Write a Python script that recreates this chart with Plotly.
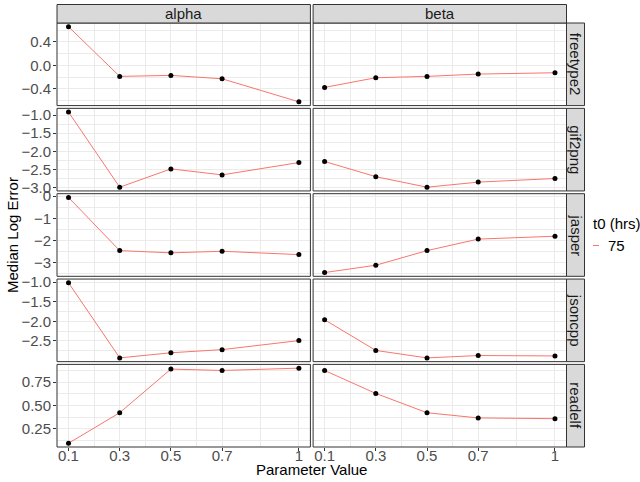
import plotly.graph_objects as go

# ---------------- data ----------------
params = [0.1, 0.3, 0.5, 0.7, 1.0]
x_tick_labels = ["0.1", "0.3", "0.5", "0.7", "1"]
methods = ["alpha", "beta"]
benchmarks = ["freetype2", "gif2png", "jasper", "jsoncpp", "readelf"]

freetype2_alpha = [0.657, -0.187, -0.170, -0.228, -0.620]
freetype2_beta = [-0.374, -0.210, -0.187, -0.148, -0.125]
gif2png_alpha = [-0.917, -2.990, -2.485, -2.650, -2.310]
gif2png_beta = [-2.280, -2.700, -2.990, -2.850, -2.750]
jasper_alpha = [-0.060, -2.460, -2.560, -2.490, -2.640]
jasper_beta = [-3.450, -3.120, -2.460, -1.940, -1.810]
jsoncpp_alpha = [-1.020, -2.930, -2.800, -2.720, -2.490]
jsoncpp_beta = [-1.960, -2.740, -2.930, -2.870, -2.880]
readelf_alpha = [0.093, 0.421, 0.890, 0.875, 0.900]
readelf_beta = [0.875, 0.628, 0.421, 0.365, 0.357]

series = {
    "freetype2": [freetype2_alpha, freetype2_beta],
    "gif2png": [gif2png_alpha, gif2png_beta],
    "jasper": [jasper_alpha, jasper_beta],
    "jsoncpp": [jsoncpp_alpha, jsoncpp_beta],
    "readelf": [readelf_alpha, readelf_beta],
}

y_ticks = {
    "freetype2": [-0.4, 0.0, 0.4],
    "gif2png": [-3.0, -2.5, -2.0, -1.5, -1.0],
    "jasper": [-3, -2, -1, 0],
    "jsoncpp": [-2.5, -2.0, -1.5, -1.0],
    "readelf": [0.25, 0.50, 0.75],
}
y_tick_labels = {
    "freetype2": ["\u22120.4", "0.0", "0.4"],
    "gif2png": ["\u22123.0", "\u22122.5", "\u22122.0", "\u22121.5", "\u22121.0"],
    "jasper": ["\u22123", "\u22122", "\u22121", "0"],
    "jsoncpp": ["\u22122.5", "\u22122.0", "\u22121.5", "\u22121.0"],
    "readelf": ["0.25", "0.50", "0.75"],
}
legend_title = "t0 (hrs)"
legend_label = "75"

# ---------------- styling / geometry ----------------
W, H = 640, 482
FONT = "Liberation Sans, Arial, sans-serif"
LINE_COLOR = "#F8766D"
GRID = "#EBEBEB"
BORDER = "#333333"
STRIP_FILL = "#D9D9D9"
TICK_TEXT = "#4D4D4D"


def px(x):
    return x / W


def py(y):
    return 1 - y / H


col_px = [(57.0, 310.4), (313.1, 566.5)]
strip_top, panel_top, panel_bottom = 4.5, 23.0, 447.0
gap = 2.75
n_rows = len(benchmarks)
panel_h = (panel_bottom - panel_top - gap * (n_rows - 1)) / n_rows
row_px = [(panel_top + r * (panel_h + gap), panel_top + r * (panel_h + gap) + panel_h) for r in range(n_rows)]
right_strip = (566.5, 584.5)


def expand(lo, hi, f=0.05):
    s = hi - lo
    return [lo - f * s, hi + f * s]


def minor_breaks(major, rng):
    step = major[1] - major[0]
    ext = [major[0] - step] + list(major) + [major[-1] + step]
    out = []
    for a, b in zip(ext[:-1], ext[1:]):
        m = (a + b) / 2
        if rng[0] <= m <= rng[1]:
            out.append(m)
    return out


def label(text, x, y, size=15, color="#1A1A1A", angle=0, xanchor="center"):
    return dict(text=text, xref="paper", yref="paper", x=x, y=y,
                xanchor=xanchor, yanchor="middle", showarrow=False,
                textangle=angle, font=dict(family=FONT, size=size, color=color))


x_range = expand(min(params), max(params))
x_major = params
x_minor = minor_breaks(params, x_range)

fig = go.Figure()
layout = dict(
    width=W, height=H,
    margin=dict(l=0, r=0, t=0, b=0, autoexpand=False),
    paper_bgcolor="white", plot_bgcolor="white",
    showlegend=False,
    font=dict(family=FONT, size=15, color="#1A1A1A"),
)
shapes = []
annotations = []

for r, bench in enumerate(benchmarks):
    vals_all = series[bench][0] + series[bench][1]
    y_range = expand(min(vals_all), max(vals_all))
    for c, meth in enumerate(methods):
        idx = r * 2 + c + 1
        sfx = "" if idx == 1 else str(idx)
        ys = series[bench][c]
        fig.add_trace(go.Scatter(
            x=params, y=ys, mode="lines",
            line=dict(color=LINE_COLOR, width=1),
            name=legend_label, xaxis="x" + sfx, yaxis="y" + sfx,
            hoverinfo="skip",
        ))
        fig.add_trace(go.Scatter(
            x=params, y=ys, mode="markers",
            marker=dict(color="#000000", size=5),
            xaxis="x" + sfx, yaxis="y" + sfx,
        ))
        bottom = r == n_rows - 1
        left = c == 0
        layout["xaxis" + sfx] = dict(
            domain=[px(col_px[c][0]), px(col_px[c][1])],
            anchor="y" + sfx,
            range=x_range,
            automargin=False,
            tickmode="array", tickvals=x_major, ticktext=x_tick_labels,
            showticklabels=bottom,
            ticks="outside" if bottom else "",
            ticklen=3, tickwidth=1, tickcolor=BORDER,
            ticklabelstandoff=-8,
            tickfont=dict(family=FONT, size=15, color=TICK_TEXT),
            showgrid=True, gridcolor=GRID, gridwidth=1.1,
            minor=dict(tickmode="array", tickvals=x_minor, showgrid=True,
                       gridcolor=GRID, gridwidth=0.5, ticks=""),
            zeroline=False, showline=False,
        )
        layout["yaxis" + sfx] = dict(
            domain=[py(row_px[r][1]), py(row_px[r][0])],
            anchor="x" + sfx,
            range=y_range,
            automargin=False,
            tickmode="array", tickvals=y_ticks[bench], ticktext=y_tick_labels[bench],
            showticklabels=left,
            ticks="outside" if left else "",
            ticklen=3, tickwidth=1, tickcolor=BORDER,
            ticklabelstandoff=-1,
            tickfont=dict(family=FONT, size=15, color=TICK_TEXT),
            showgrid=True, gridcolor=GRID, gridwidth=1.1,
            minor=dict(tickmode="array", tickvals=minor_breaks(y_ticks[bench], y_range),
                       showgrid=True, gridcolor=GRID, gridwidth=0.5, ticks=""),
            zeroline=False, showline=False,
        )
        shapes.append(dict(type="rect", xref="x" + sfx + " domain", yref="y" + sfx + " domain",
                           x0=0, x1=1, y0=0, y1=1, line=dict(color=BORDER, width=1),
                           fillcolor="rgba(0,0,0,0)", layer="above"))
    # right strip
    shapes.append(dict(type="rect", xref="paper", yref="paper",
                       x0=px(right_strip[0]), x1=px(right_strip[1]),
                       y0=py(row_px[r][1]), y1=py(row_px[r][0]),
                       fillcolor=STRIP_FILL, line=dict(color=BORDER, width=1)))
    annotations.append(label(bench, px((right_strip[0] + right_strip[1]) / 2),
                             py((row_px[r][0] + row_px[r][1]) / 2), angle=90))

# top strips
for c, meth in enumerate(methods):
    shapes.append(dict(type="rect", xref="paper", yref="paper",
                       x0=px(col_px[c][0]), x1=px(col_px[c][1]),
                       y0=py(panel_top), y1=py(strip_top),
                       fillcolor=STRIP_FILL, line=dict(color=BORDER, width=1)))
    annotations.append(label(meth, px((col_px[c][0] + col_px[c][1]) / 2),
                             py((strip_top + panel_top) / 2)))

# axis titles
annotations.append(label("Parameter Value", px((col_px[0][0] + col_px[1][1]) / 2), py(469.5),
                         color="#000000"))
annotations.append(label("Median Log Error", px(12), py(235), color="#000000", angle=-90))

# legend (drawn to match ggplot's compact key)
annotations.append(label(legend_title, px(591), py(223), color="#000000", xanchor="left"))
shapes.append(dict(type="line", xref="paper", yref="paper",
                   x0=px(593), x1=px(599), y0=py(245.5), y1=py(245.5),
                   line=dict(color=LINE_COLOR, width=1)))
annotations.append(label(legend_label, px(606), py(245), color="#000000", xanchor="left"))

layout["shapes"] = shapes
layout["annotations"] = annotations
fig.update_layout(**layout)
fig.write_html("out.html",
               config={"displayModeBar": False},
               post_script="document.body.style.margin='0px';document.body.style.padding='0px';")
